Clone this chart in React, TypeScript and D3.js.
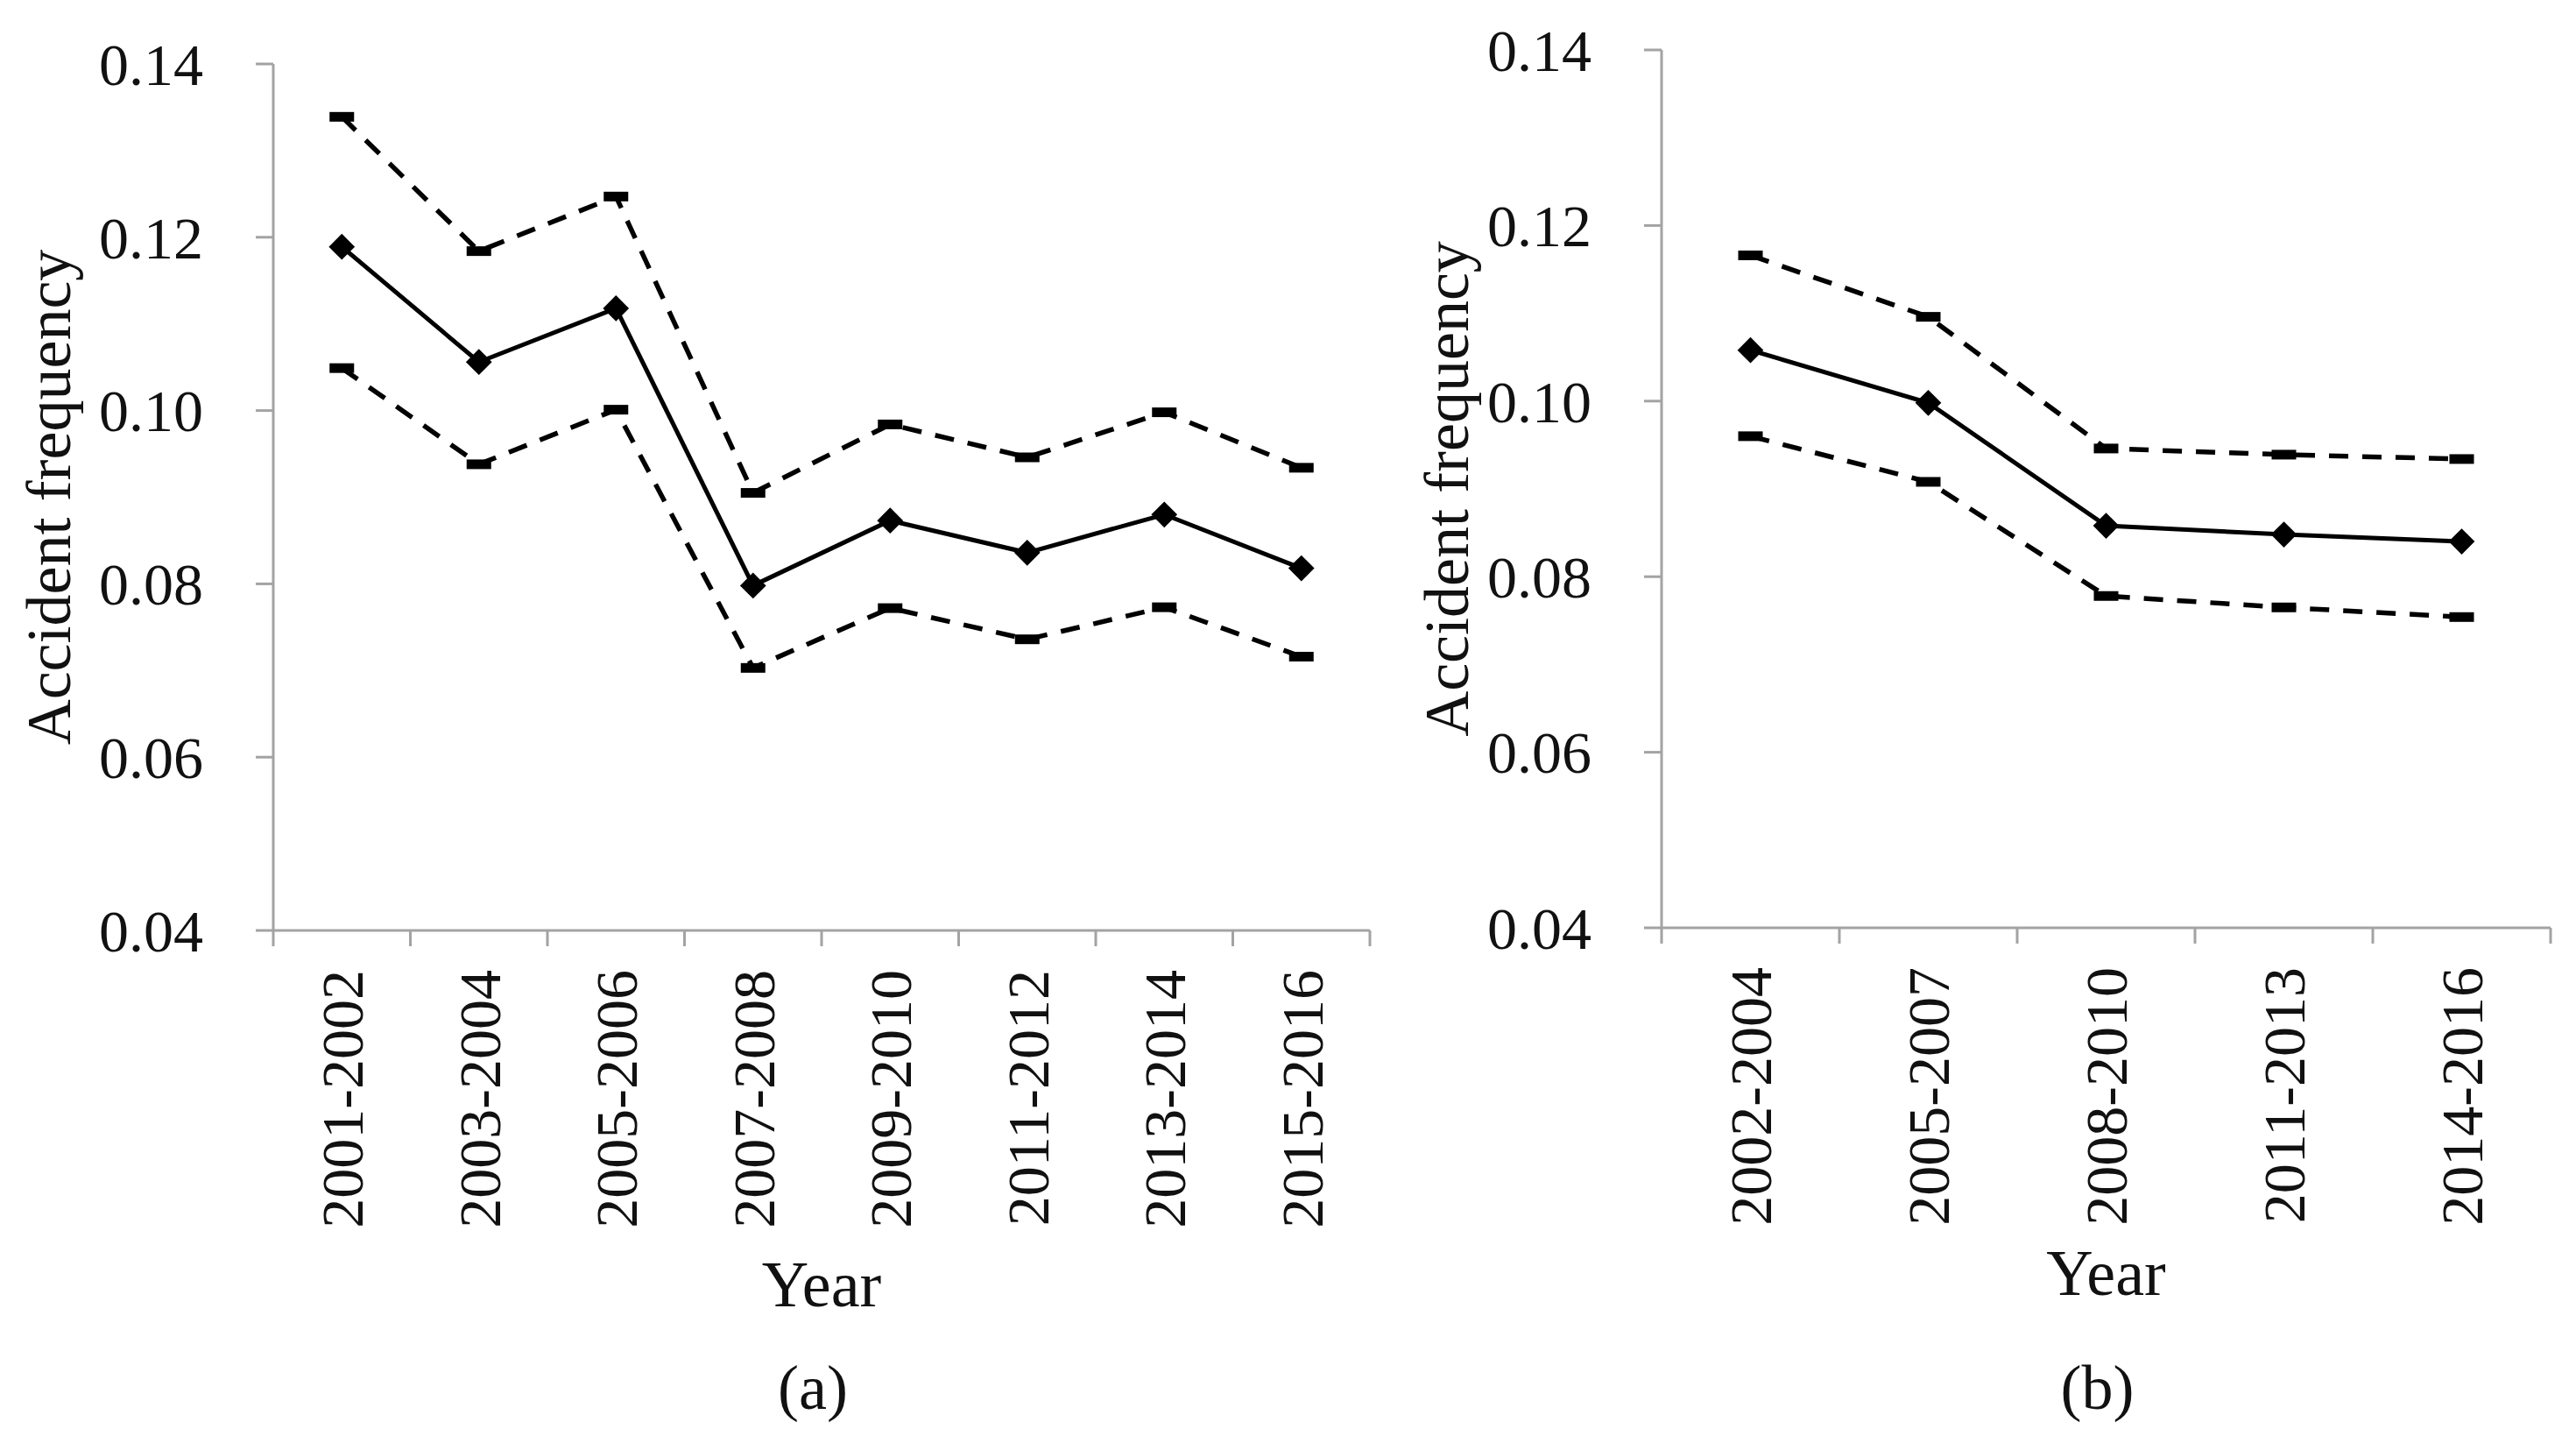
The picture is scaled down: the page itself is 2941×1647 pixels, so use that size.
import React from "react";
import * as d3 from "d3";

// Panel (a): two-year periods
const catsA = ["2001-2002", "2003-2004", "2005-2006", "2007-2008", "2009-2010", "2011-2012", "2013-2014", "2015-2016"];
const meanA = [0.1189, 0.1056, 0.1118, 0.0798, 0.0873, 0.0836, 0.0880, 0.0818];
const upperA = [0.1339, 0.1184, 0.1247, 0.0905, 0.0984, 0.0946, 0.0998, 0.0934];
const lowerA = [0.1049, 0.0938, 0.1001, 0.0703, 0.0772, 0.0736, 0.0773, 0.0716];

// Panel (b): three-year periods
const catsB = ["2002-2004", "2005-2007", "2008-2010", "2011-2013", "2014-2016"];
const meanB = [0.1058, 0.0998, 0.0858, 0.0848, 0.0840];
const upperB = [0.1166, 0.1096, 0.0946, 0.0939, 0.0934];
const lowerB = [0.0960, 0.0908, 0.0778, 0.0765, 0.0754];

const yTicks = [0.04, 0.06, 0.08, 0.10, 0.12, 0.14];

const FONT = "'Liberation Serif', 'Times New Roman', serif";
const AXIS = "#a3a3a3";

type PanelProps = {
  cats: string[];
  mean: number[];
  upper: number[];
  lower: number[];
  left: number;
  right: number;
  top: number;
  bottom: number;
  titleX: number;
  yearBaseline: number;
  tag: string;
};

function Panel({ cats, mean, upper, lower, left, right, top, bottom, titleX, yearBaseline, tag }: PanelProps) {
  const x = d3.scaleBand<string>().domain(cats).range([left, right]).paddingInner(0).paddingOuter(0);
  const y = d3.scaleLinear().domain([0.04, 0.14]).range([bottom, top]);
  const cx = (c: string) => (x(c) ?? 0) + x.bandwidth() / 2;
  const fmt = d3.format(".2f");

  const line = d3.line<number>()
    .x((_, i) => cx(cats[i]))
    .y(d => y(d));

  const boundaries = d3.range(cats.length + 1).map(i => left + i * x.bandwidth());
  const midX = (left + right) / 2;
  const midY = (top + bottom) / 2;

  return (
    <g>
      {/* y axis */}
      <line x1={left} x2={left} y1={top} y2={bottom} stroke={AXIS} strokeWidth={3} />
      {yTicks.map(t => (
        <g key={t}>
          <line x1={left - 20} x2={left} y1={y(t)} y2={y(t)} stroke={AXIS} strokeWidth={3} />
          <text x={left - 80} y={y(t)} dy="0.35em" textAnchor="end" fontSize={68} fontFamily={FONT} fill="#111">
            {fmt(t)}
          </text>
        </g>
      ))}
      {/* x axis */}
      <line x1={left} x2={right} y1={bottom} y2={bottom} stroke={AXIS} strokeWidth={3} />
      {boundaries.map((b, i) => (
        <line key={i} x1={b} x2={b} y1={bottom} y2={bottom + 18} stroke={AXIS} strokeWidth={3} />
      ))}
      {cats.map(c => (
        <text
          key={c}
          transform={`translate(${cx(c)},${bottom + 45}) rotate(-90)`}
          dy="0.35em"
          textAnchor="end"
          fontSize={68}
          fontFamily={FONT}
          fill="#111"
        >
          {c}
        </text>
      ))}

      {/* confidence bounds */}
      {[upper, lower].map((s, k) => (
        <g key={k}>
          <path d={line(s) ?? ""} fill="none" stroke="#000" strokeWidth={5.5} strokeDasharray="22,16" />
          {s.map((v, i) => (
            <rect key={i} x={cx(cats[i]) - 14} y={y(v) - 5.5} width={28} height={11} fill="#000" />
          ))}
        </g>
      ))}

      {/* mean */}
      <path d={line(mean) ?? ""} fill="none" stroke="#000" strokeWidth={5} />
      {mean.map((v, i) => (
        <rect
          key={i}
          x={-10.5}
          y={-10.5}
          width={21}
          height={21}
          fill="#000"
          transform={`translate(${cx(cats[i])},${y(v)}) rotate(45)`}
        />
      ))}

      {/* titles */}
      <text
        transform={`translate(${titleX},${midY}) rotate(-90)`}
        textAnchor="middle"
        fontSize={72}
        fontFamily={FONT}
        fill="#111"
      >
        Accident frequency
      </text>
      <text x={midX} y={yearBaseline} textAnchor="middle" fontSize={74} fontFamily={FONT} fill="#111">
        Year
      </text>
      <text x={midX - 10} y={1608} textAnchor="middle" fontSize={72} fontFamily={FONT} fill="#111">
        {tag}
      </text>
    </g>
  );
}

export default function App() {
  return (
    <svg
      width={2941}
      height={1647}
      viewBox="0 0 2941 1647"
      style={{ position: "absolute", left: 0, top: 0, background: "#fff" }}
    >
      <rect width={2941} height={1647} fill="#fff" />
      <Panel
        cats={catsA}
        mean={meanA}
        upper={upperA}
        lower={lowerA}
        left={312}
        right={1564}
        top={73}
        bottom={1062}
        titleX={80}
        yearBaseline={1491}
        tag="(a)"
      />
      <Panel
        cats={catsB}
        mean={meanB}
        upper={upperB}
        lower={lowerB}
        left={1897}
        right={2912}
        top={57}
        bottom={1059}
        titleX={1676}
        yearBaseline={1478}
        tag="(b)"
      />
    </svg>
  );
}
